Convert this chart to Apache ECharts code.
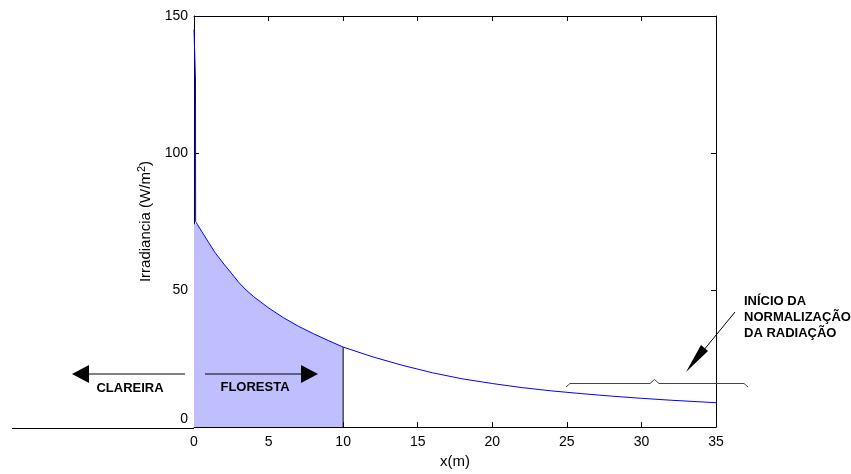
<!DOCTYPE html>
<html>
<head>
<meta charset="utf-8">
<script src="https://cdn.jsdelivr.net/npm/echarts@6/dist/echarts.min.js"></script>
<style>html,body{margin:0;padding:0;background:#fff}#c{width:851px;height:474px}</style>
</head>
<body>
<div id="c"></div>
<script>
// Curve
var xValues = [0, 0.1, 0.11, 0.22, 0.6, 1.0, 1.41, 2.0, 2.5, 3.0, 3.5, 4.0, 5.0, 6.0, 7.0, 8.0, 9.0, 10.0, 12, 14, 16, 18, 20, 22, 24, 26, 28, 30, 32, 35];
var yValues = [145, 127, 75, 74, 70.7, 67.2, 63.7, 59.5, 56.2, 52.8, 50.0, 47.6, 43.5, 39.9, 36.8, 34.1, 31.6, 29.2, 25.6, 22.5, 19.8, 17.6, 15.9, 14.4, 13.2, 12.2, 11.3, 10.5, 9.8, 8.9];
var fillEnd = 10;           // shaded forest zone ends at x = 10
var xTicks = [0, 35, 5];    // min, max, interval
var yTicks = [0, 150, 50];
var labelLeft = 'CLAREIRA';
var labelRight = 'FLORESTA';
var noteLines = ['INÍCIO DA', 'NORMALIZAÇÃO', 'DA RADIAÇÃO'];

var curve = xValues.map(function (x, i) { return [x, yValues[i]]; });
var spike = curve.slice(0, 4);
var decay = curve.slice(3);
var fillData = decay.filter(function (p) { return p[0] <= fillEnd; });
fillData.unshift([0, fillData[0][1]]);
var fillTop = yValues[xValues.indexOf(fillEnd)];

var FONT = 'Liberation Sans, Arial, sans-serif';
var chart = echarts.init(document.getElementById('c'), null, {renderer: 'canvas'});

function axisCommon(show) {
  return {
    axisLine: {show: true, onZero: false, lineStyle: {color: '#000', width: 1}},
    axisTick: {show: true, inside: true, length: 5, lineStyle: {color: '#000'}},
    axisLabel: {show: show, color: '#000', fontSize: 14, fontFamily: FONT},
    splitLine: {show: false}
  };
}

var xa0 = Object.assign(axisCommon(true), {type: 'value', min: xTicks[0], max: xTicks[1], interval: xTicks[2], position: 'bottom',
  name: 'x(m)', nameLocation: 'middle', nameGap: 22, nameTextStyle: {color: '#000', fontSize: 15, fontFamily: FONT}});
xa0.axisLabel.margin = 8;
var xa1 = Object.assign(axisCommon(false), {type: 'value', min: xTicks[0], max: xTicks[1], interval: xTicks[2], position: 'top'});
var ya0 = Object.assign(axisCommon(true), {type: 'value', min: yTicks[0], max: yTicks[1], interval: yTicks[2], position: 'left',
  name: '{n|Irradiancia (W/m}{s|2}{n|)}', nameLocation: 'middle', nameGap: 38,
  nameTextStyle: {rich: {n: {color: '#000', fontSize: 15, fontFamily: FONT}, s: {color: '#000', fontSize: 11, fontFamily: FONT, padding: [0, 0, 8, 0]}}}});
ya0.axisLabel.margin = 6;
ya0.axisLabel.formatter = function (v) { return v === 0 ? '{z|0}' : String(v); };
ya0.axisLabel.rich = {z: {color: '#000', fontSize: 14, fontFamily: FONT, padding: [0, 0, 16, 0]}};
var ya1 = Object.assign(axisCommon(false), {type: 'value', min: yTicks[0], max: yTicks[1], interval: yTicks[2], position: 'right'});

chart.setOption({
  animation: false,
  backgroundColor: '#fff',
  grid: {left: 194, right: 135, top: 16, bottom: 46, show: false},
  xAxis: [xa0, xa1],
  yAxis: [ya0, ya1],
  series: [
    {type: 'line', data: fillData, symbol: 'none', lineStyle: {width: 0}, areaStyle: {color: '#bfbfff', opacity: 1}, z: 1},
    {type: 'line', data: [[fillEnd, 0], [fillEnd, fillTop]], symbol: 'none', lineStyle: {color: '#000', width: 1}, z: 2},
    {type: 'line', data: spike, symbol: 'none', lineStyle: {color: '#0000ff', width: 1}, z: 3},
    {type: 'line', data: decay, symbol: 'none', lineStyle: {color: '#0000ff', width: 1}, z: 3}
  ]
});

// Annotations
var g = [];
g.push({type: 'line', shape: {x1: 12, y1: 428.5, x2: 194, y2: 428.5}, style: {stroke: '#000', lineWidth: 1}});
// left arrow
g.push({type: 'line', shape: {x1: 88, y1: 374, x2: 185, y2: 374}, style: {stroke: '#000', lineWidth: 1}});
g.push({type: 'polygon', shape: {points: [[72, 374], [89, 365], [89, 383]]}, style: {fill: '#000'}});
// right arrow
g.push({type: 'line', shape: {x1: 205, y1: 374, x2: 302, y2: 374}, style: {stroke: '#000', lineWidth: 1}});
g.push({type: 'polygon', shape: {points: [[318, 374], [301, 365], [301, 383]]}, style: {fill: '#000'}});
g.push({type: 'text', style: {text: labelLeft, x: 130, y: 388, align: 'center', verticalAlign: 'middle', font: 'bold 13px ' + FONT, fill: '#000'}});
g.push({type: 'text', style: {text: labelRight, x: 255, y: 387, align: 'center', verticalAlign: 'middle', font: 'bold 13px ' + FONT, fill: '#000'}});
noteLines.forEach(function (t, i) {
  g.push({type: 'text', style: {text: t, x: 744, y: 301 + i * 16, align: 'left', verticalAlign: 'middle', font: 'bold 13px ' + FONT, fill: '#000'}});
});
// pointer arrow
g.push({type: 'line', shape: {x1: 735, y1: 312, x2: 703, y2: 351}, style: {stroke: '#000', lineWidth: 1}});
g.push({type: 'polygon', shape: {points: [[686, 372], [701, 345], [708, 351]]}, style: {fill: '#000'}});
// brace
g.push({type: 'polyline', shape: {points: [[566, 387], [570, 383.5], [650, 383.5], [654.5, 379.5], [659, 383.5], [744, 383.5], [748, 387]]}, style: {stroke: '#444', lineWidth: 1, fill: null}});
g.forEach(function (e) { e.z = 100; });
chart.setOption({graphic: g});
</script>
</body>
</html>
